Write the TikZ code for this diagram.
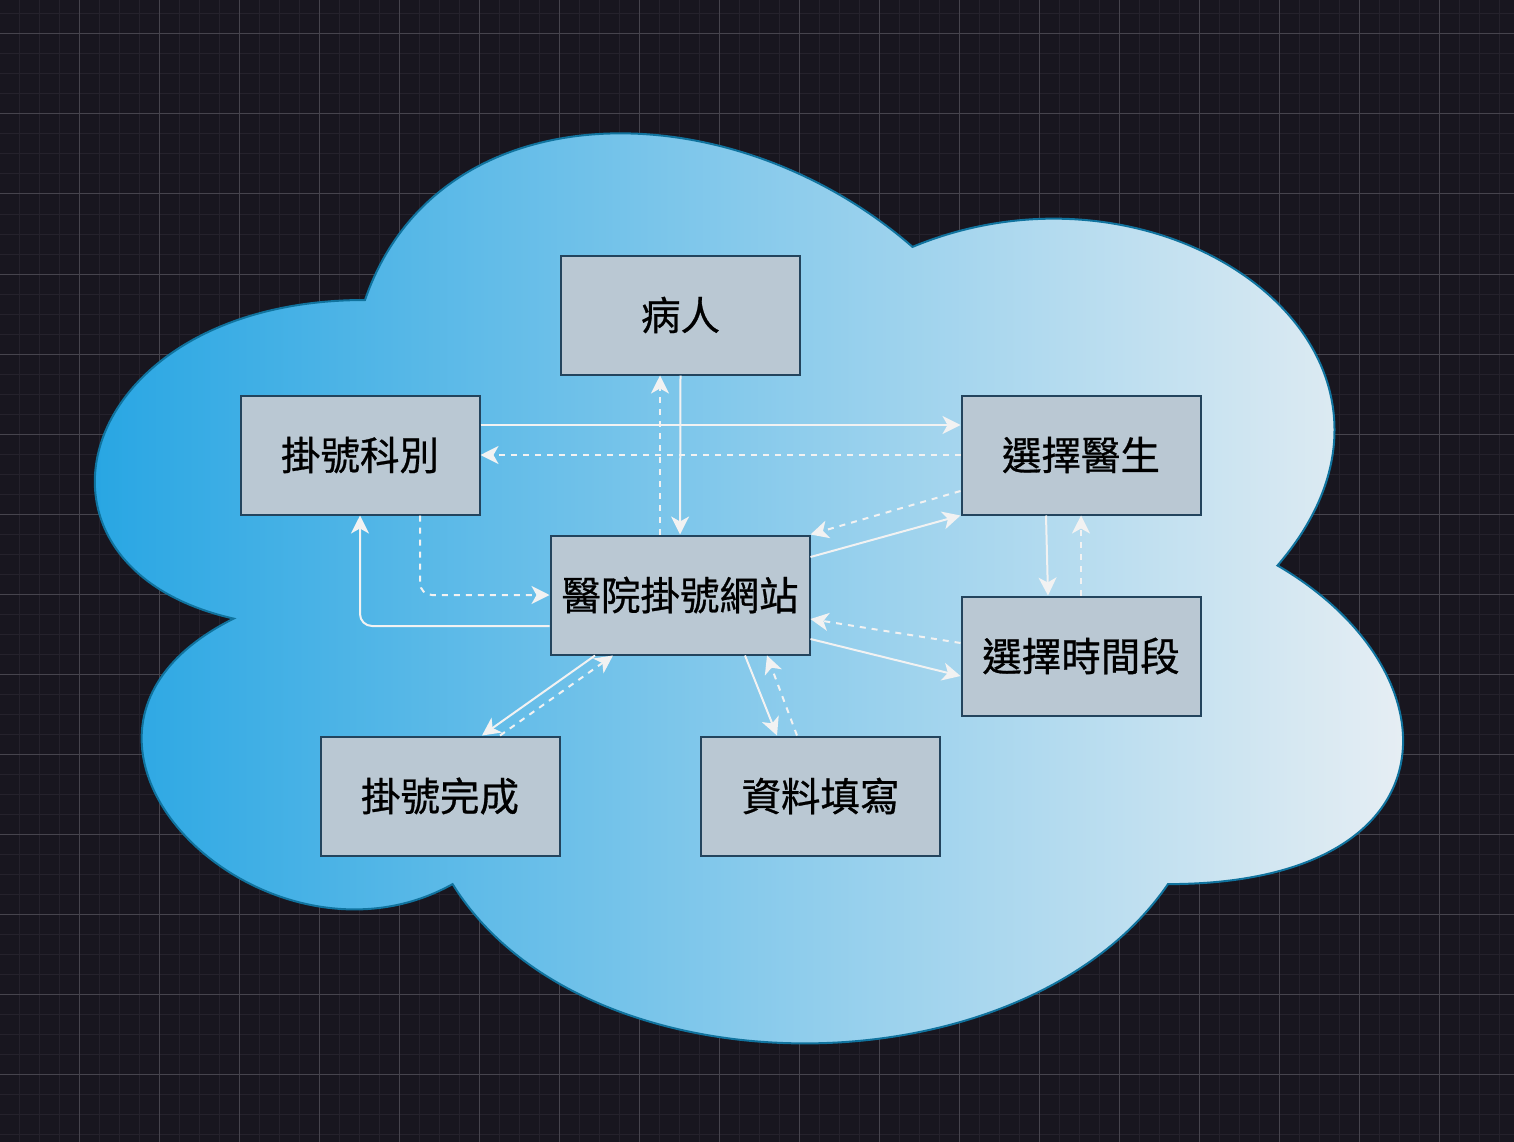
\documentclass[tikz,border=0pt]{standalone}
\usepackage{fontspec}
\newfontfamily\cjk[FakeBold=0.7]{Noto Sans CJK TC}
\usetikzlibrary{arrows.meta}

\definecolor{canvas}{HTML}{18161F}
\definecolor{gridminor}{HTML}{25222C}
\definecolor{gridmajor}{HTML}{46444D}
\definecolor{cloudleft}{HTML}{1BA1E2}
\definecolor{cloudright}{HTML}{EEF1F4}
\definecolor{cloudline}{HTML}{10739E}
\definecolor{boxfill}{HTML}{BAC8D3}
\definecolor{boxline}{HTML}{23445D}
\definecolor{wire}{HTML}{F2F2F2}

\tikzset{
  stepbox/.style={draw=boxline, fill=boxfill, line width=2pt,
    minimum width=239pt, minimum height=119pt, inner sep=0pt,
    font=\cjk\fontsize{39.5}{42}\selectfont, text=black},
  conn/.style={draw=wire, line width=2pt,
    -{Stealth[length=18pt,width=18pt,inset=5pt]}},
  back/.style={conn, dash pattern=on 6pt off 6pt},
}

\begin{document}
\begin{tikzpicture}[x=1pt,y=-1pt]
  % canvas and grid
  \fill[canvas] (0,0) rectangle (1514,1142);
  \useasboundingbox (0,0) rectangle (1514,1142);
  \foreach \gx in {19,39,...,1514} \draw[gridminor,line width=1pt] (\gx,0) -- (\gx,1142);
  \foreach \gy in {14,34,...,1142} \draw[gridminor,line width=1pt] (0,\gy) -- (1514,\gy);
  \foreach \gx in {79,159,...,1514} \draw[gridmajor,line width=1pt] (\gx,0) -- (\gx,1142);
  \foreach \gy in {34,114,...,1142} \draw[gridmajor,line width=1pt] (0,\gy) -- (1514,\gy);

  % cloud
  \path[draw=cloudline, line width=2pt, left color=cloudleft, right color=cloudright]
    (365,300)
    .. controls (73,300) and (0,565.5) .. (233.6,618.6)
    .. controls (0,735.4) and (262.8,990.3) .. (452.6,884.1)
    .. controls (584,1096.5) and (1022,1096.5) .. (1168,884.1)
    .. controls (1460,884.1) and (1460,671.7) .. (1277.5,565.5)
    .. controls (1460,353.1) and (1168,140.7) .. (912.5,246.9)
    .. controls (730,87.6) and (438,87.6) .. (365,300) -- cycle;

  % boxes
  \node[stepbox] (pt)   at (680.5,315) {病人};
  \node[stepbox] (dept) at (360,455)   {掛號科別};
  \node[stepbox] (doc)  at (1081,455)  {選擇醫生};
  \node[stepbox, minimum width=259pt] (site) at (680,595) {醫院掛號網站};
  \node[stepbox] (slot) at (1081,656)  {選擇時間段};
  \node[stepbox] (done) at (440,796)   {掛號完成};
  \node[stepbox] (form) at (820.5,796) {資料填寫};

  % connectors
  \draw[conn] (pt.south) -- (site.north);
  \draw[back] ([xshift=-20pt]site.north) -- ([xshift=-20.5pt]pt.south);

  \draw[conn] ([yshift=30pt]dept.east) -- ([yshift=30pt]doc.west);
  \draw[back] (doc.west) -- (dept.east);

  \draw[back, rounded corners=12pt] ([xshift=60pt]dept.south) |- (site.west);
  \draw[conn, rounded corners=12pt] ([yshift=-31pt]site.west) -| (dept.south);

  \draw[conn] ([yshift=38pt]site.east) -- (doc.south west);
  \draw[back] ([yshift=-36pt]doc.west) -- (site.north east);

  \draw[conn] ([yshift=-44pt]site.east) -- ([yshift=-20pt]slot.west);
  \draw[back] ([yshift=13pt]slot.west) -- ([yshift=-24pt]site.east);

  \draw[conn] ([xshift=-35pt]doc.south) -- ([xshift=-33pt]slot.north);
  \draw[back] (slot.north) -- (doc.south);

  \draw[conn] ([xshift=-85pt]site.south) -- ([xshift=42pt]done.north);
  \draw[back] ([xshift=60pt]done.north) -- ([xshift=-67pt]site.south);

  \draw[conn] ([xshift=65pt]site.south) -- ([xshift=-43.5pt]form.north);
  \draw[back] ([xshift=-23.5pt]form.north) -- ([xshift=87pt]site.south);
\end{tikzpicture}
\end{document}
